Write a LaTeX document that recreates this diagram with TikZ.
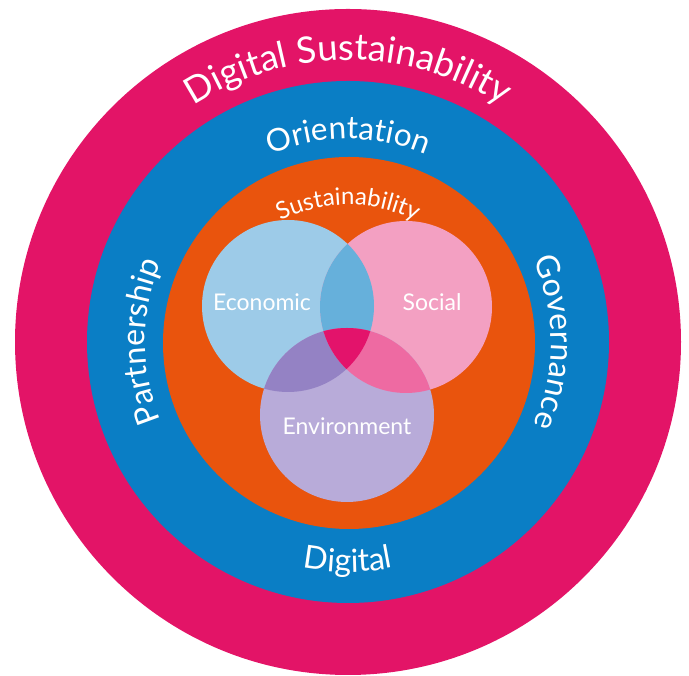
\documentclass[tikz,border=0pt]{standalone}
\usepackage{fontspec}
\setmainfont{Lato}
\usetikzlibrary{decorations.text}
\definecolor{ringpink}{HTML}{E31467}
\definecolor{ringblue}{HTML}{0A7EC5}
\definecolor{ringorange}{HTML}{E9540D}
\definecolor{econ}{HTML}{9DCBE8}
\definecolor{soc}{HTML}{F3A0C2}
\definecolor{env}{HTML}{B8ABD9}
\definecolor{econsoc}{HTML}{66B0DB}
\definecolor{econenv}{HTML}{9482C4}
\definecolor{socenv}{HTML}{EE6AA2}
\definecolor{allthree}{HTML}{E3136B}
\tikzset{
  ring/.style={circle, inner sep=0pt, draw=none},
  venn/.style={circle, inner sep=0pt, draw=none},
  vennlabel/.style={text=white, font=\fontsize{23}{27}\selectfont},
  arctext/.style={decorate, decoration={text along path, text align=center, text color=white, text={#1}}}
}
\begin{document}
\begin{tikzpicture}[x=1pt,y=1pt]
\useasboundingbox (0,0) rectangle (689,676);
\coordinate (C) at (348,334);
\node[ring, fill=ringpink, minimum size=666pt] (outer) at (C) {};
\node[ring, fill=ringblue, minimum size=522pt] (middle) at (C) {};
\node[ring, fill=ringorange, minimum size=372pt] (inner) at (349,333) {};
% Venn circles
\coordinate (E) at (288,370);
\coordinate (S) at (406,369);
\coordinate (V) at (347,261);
\node[venn, fill=econ, minimum size=172pt] (econc) at (E) {};
\node[venn, fill=soc, minimum size=172pt] (socc) at (S) {};
\node[venn, fill=env, minimum size=174pt] (envc) at (V) {};
\begin{scope}
  \clip (E) circle[radius=86];
  \fill[econsoc] (S) circle[radius=86];
  \fill[econenv] (V) circle[radius=87];
\end{scope}
\begin{scope}
  \clip (S) circle[radius=86];
  \fill[socenv] (V) circle[radius=87];
\end{scope}
\begin{scope}
  \clip (E) circle[radius=86];
  \clip (S) circle[radius=86];
  \fill[allthree] (V) circle[radius=87];
\end{scope}
\node[vennlabel] (econlabel) at (262,374) {Economic};
\node[vennlabel] (soclabel) at (432,374) {Social};
\node[vennlabel] (envlabel) at (347,250) {Environment};
% curved texts
\path[arctext={|\fontsize{36.5}{42}\selectfont|Digital Sustainability}]
  (C) ++(150:282) arc[start angle=150, end angle=30, radius=282];
\path[arctext={|\fontsize{31.5}{36}\selectfont|Orientation}]
  (C) ++(150:203) arc[start angle=150, end angle=30, radius=203];
\path[arctext={|\fontsize{32}{36}\selectfont|Partnership}]
  (C) ++(240:203) arc[start angle=240, end angle=120, radius=203];
\path[arctext={|\fontsize{32}{36}\selectfont|Governance}]
  (C) ++(60:203) arc[start angle=60, end angle=-60, radius=203];
\path[arctext={|\fontsize{32}{36}\selectfont|Digital}]
  (C) ++(210:230) arc[start angle=210, end angle=330, radius=230];
\path[arctext={|\fontsize{24}{28}\selectfont|Sustainability}]
  (348,321) ++(150:150) arc[start angle=150, end angle=30, radius=150];
\end{tikzpicture}
\end{document}
